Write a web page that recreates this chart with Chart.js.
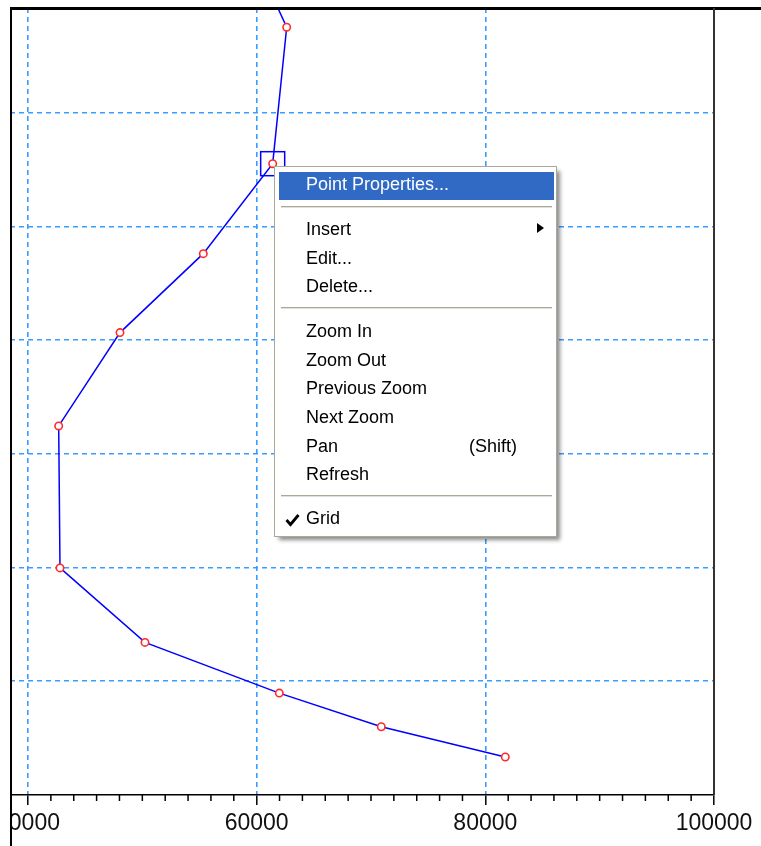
<!DOCTYPE html>
<html>
<head>
<meta charset="utf-8">
<script src="https://cdn.jsdelivr.net/npm/chart.js@4/dist/chart.umd.min.js"></script>
<style>
html,body{margin:0;padding:0;background:#fff;overflow:hidden;width:761px;height:846px;}
#wrap{position:relative;width:761px;height:846px;overflow:hidden;background:#fff;}
#c{position:absolute;left:-80px;top:0;}
.menu{position:absolute;left:274px;top:166px;width:283px;height:371px;box-sizing:border-box;border:1px solid #aca899;background:#fff;box-shadow:4px 4px 4px -1px rgba(0,0,0,0.45);}
.hl{position:absolute;left:279px;top:172px;width:275px;height:28px;background:#316ac5;}
.item{position:absolute;left:306px;height:28px;line-height:28px;font-family:"Liberation Sans",Arial,sans-serif;font-size:18px;color:#000;white-space:nowrap;}
.item.hi{color:#fff;}
.sep{position:absolute;left:281px;width:271px;height:1px;background:#aca899;box-shadow:0 1px 0 #e2e0d8;}
.arrow{position:absolute;left:537px;top:223px;width:0;height:0;border-left:7px solid #000;border-top:5px solid transparent;border-bottom:5px solid transparent;}
.check{position:absolute;left:285px;top:513px;}
</style>
</head>
<body>
<div id="wrap">
<canvas id="c" width="841" height="846"></canvas>
<div class="menu"></div>
<div class="hl"></div>
<div class="item hi" style="top:170px">Point Properties...</div>
<div class="sep" style="top:206px"></div>
<div class="item" style="top:214.7px">Insert</div>
<div class="arrow"></div>
<div class="item" style="top:243.7px">Edit...</div>
<div class="item" style="top:272.3px">Delete...</div>
<div class="sep" style="top:307px"></div>
<div class="item" style="top:316.7px">Zoom In</div>
<div class="item" style="top:345.7px">Zoom Out</div>
<div class="item" style="top:374px">Previous Zoom</div>
<div class="item" style="top:403px">Next Zoom</div>
<div class="item" style="top:431.5px">Pan</div>
<div class="item" style="top:431.5px;left:469px">(Shift)</div>
<div class="item" style="top:459.7px">Refresh</div>
<div class="sep" style="top:495px"></div>
<svg class="check" width="15" height="14" viewBox="0 0 15 14"><polyline points="1.5,7 5.5,11.5 13.5,2" fill="none" stroke="#000" stroke-width="2.8"/></svg>
<div class="item" style="top:503.8px">Grid</div>
</div>
<script>
// ---- data ----
const X_TICKS = [40000, 60000, 80000, 100000];
const X_MINOR_STEP = 2000;
const X_MIN = 38426;
const X_MAX = 100000;
const Y_MIN = 0;
const Y_MAX = 6.92;
const Y_GRID = [1, 2, 3, 4, 5, 6];
const xValues = [59197, 62626, 61401, 55332, 48046, 42685, 42799, 50233, 61979, 70900, 81745];
const yValues = [7.5, 6.751, 5.551, 4.760, 4.066, 3.245, 1.997, 1.342, 0.896, 0.600, 0.334];
const SELECTED_INDEX = 2;

const GRID_COLOR = '#3a9cff';

const framePlugin = {
  id: 'frame',
  afterDraw(chart) {
    const ctx = chart.ctx;
    const a = chart.chartArea;
    const xs = chart.scales.x;
    ctx.save();
    // minor ticks
    ctx.strokeStyle = '#000';
    ctx.lineWidth = 1.5;
    for (let v = X_TICKS[0]; v <= X_MAX; v += X_MINOR_STEP) {
      if (X_TICKS.includes(v)) continue;
      const px = xs.getPixelForValue(v);
      ctx.beginPath();
      ctx.moveTo(px, a.bottom);
      ctx.lineTo(px, a.bottom + 6);
      ctx.stroke();
    }
    // selection square around the selected point
    const p = chart.getDatasetMeta(0).data[SELECTED_INDEX];
    ctx.strokeStyle = '#0000ff';
    ctx.lineWidth = 1.5;
    ctx.strokeRect(p.x - 12, p.y - 12, 24, 24);
    // mask left of frame
    ctx.fillStyle = '#fff';
    ctx.fillRect(0, 0, a.left, chart.height);
    ctx.fillRect(0, 0, chart.width, a.top - 1);
    // frame
    ctx.fillStyle = '#000';
    ctx.fillRect(a.left, a.top - 1, 2, chart.height);
    ctx.fillRect(a.left, a.top - 1, chart.width, 3);
    ctx.fillStyle = '#333';
    ctx.fillRect(a.right - 1, a.top, 2, a.bottom - a.top);
    ctx.restore();
  }
};

new Chart(document.getElementById('c'), {
  type: 'line',
  data: {
    datasets: [{
      data: xValues.map((x, i) => ({ x: x, y: yValues[i] })),
      borderColor: '#0000ff',
      borderWidth: 1.5,
      pointRadius: 3.7,
      pointHoverRadius: 3.7,
      pointBorderColor: '#ff2a2a',
      pointBackgroundColor: '#ffffff',
      pointBorderWidth: 1.6,
      tension: 0,
      fill: false
    }]
  },
  options: {
    responsive: false,
    animation: false,
    devicePixelRatio: 1,
    layout: { padding: { left: 90, right: 47, top: 8, bottom: 0 } },
    plugins: { legend: { display: false }, tooltip: { enabled: false } },
    scales: {
      x: {
        type: 'linear',
        min: X_MIN,
        max: X_MAX,
        afterBuildTicks: s => { s.ticks = X_TICKS.map(v => ({ value: v })); },
        afterFit: s => { s.height = 51; },
        ticks: {
          font: { family: '"Liberation Sans", Arial, sans-serif', size: 23 },
          color: '#111',
          padding: 5,
          maxRotation: 0,
          autoSkip: false,
          callback: v => String(v)
        },
        grid: {
          color: GRID_COLOR,
          lineWidth: 1.6,
          tickColor: '#000',
          tickLength: 10,
          tickWidth: 1.5,
          tickBorderDash: []
        },
        border: { display: true, color: '#000', width: 1.5, dash: [5, 4] }
      },
      y: {
        type: 'linear',
        min: Y_MIN,
        max: Y_MAX,
        afterBuildTicks: s => { s.ticks = Y_GRID.map(v => ({ value: v })); },
        afterFit: s => { s.width = 0; },
        ticks: { display: false },
        grid: { color: GRID_COLOR, lineWidth: 1.6, drawTicks: false },
        border: { display: false, dash: [5, 4] }
      }
    }
  },
  plugins: [framePlugin]
});
</script>
</body>
</html>
